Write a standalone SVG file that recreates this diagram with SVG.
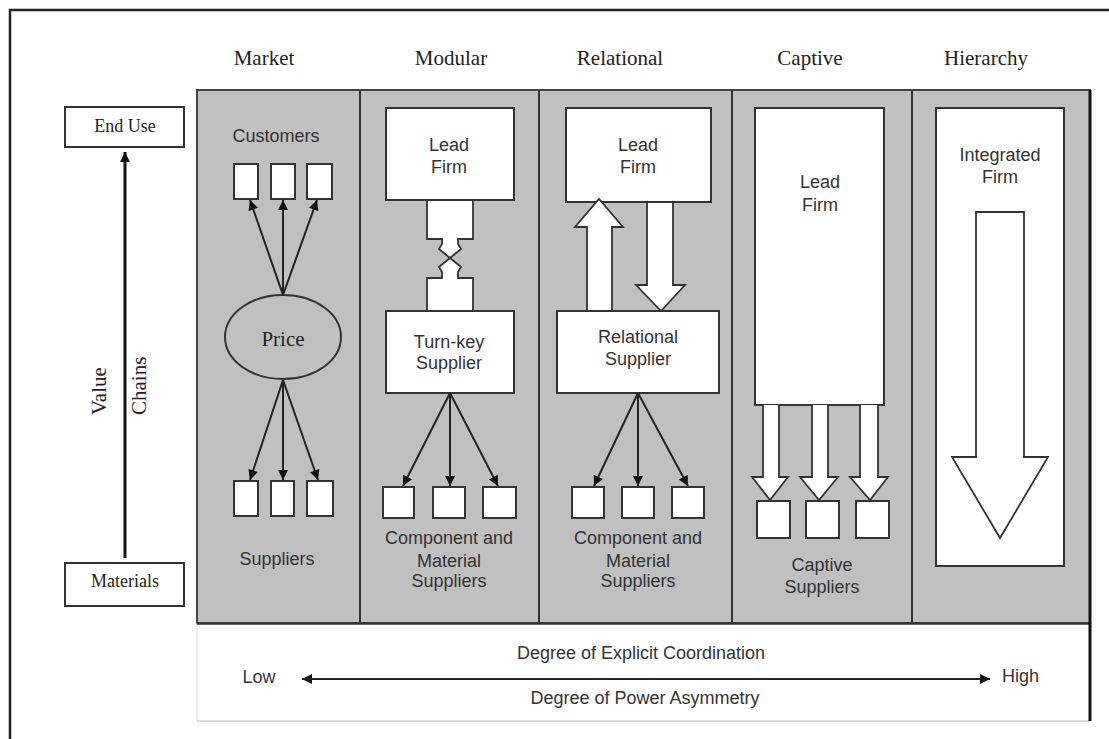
<svg xmlns="http://www.w3.org/2000/svg" width="1109" height="739" viewBox="0 0 1109 739">
<defs>
<style>
.serif{font-family:"Liberation Serif","Times New Roman",serif;fill:#222}
.sans{font-family:"Liberation Sans",Arial,sans-serif;fill:#333;font-size:18px;text-anchor:middle}
.start{text-anchor:start}
.box{fill:#fff;stroke:#333;stroke-width:2}
.hollow{fill:#fff;stroke:#333;stroke-width:1.8;stroke-linejoin:miter}
.sep{stroke:#333;stroke-width:2}
.conn{stroke:#222;stroke-width:2;fill:none;marker-end:url(#ah)}
</style>
<marker id="ah" viewBox="0 0 10 10" refX="10" refY="5" markerWidth="11" markerHeight="10" markerUnits="userSpaceOnUse" orient="auto">
<path d="M0,0 L10,5 L0,10 z" fill="#111"/>
</marker>
<marker id="ahb" viewBox="0 0 10 10" refX="10" refY="5" markerWidth="12" markerHeight="10" markerUnits="userSpaceOnUse" orient="auto">
<path d="M0,0 L10,5 L0,10 z" fill="#111"/>
</marker>
</defs>
<rect width="1109" height="739" fill="#fff"/>
<!-- outer frame -->
<path d="M10,739 L10,10 L1109,10" fill="none" stroke="#222" stroke-width="2.5"/>

<!-- headers -->
<g id="headers" class="serif" font-size="21" text-anchor="middle">
<text x="264" y="65">Market</text>
<text x="451" y="65">Modular</text>
<text x="620" y="65">Relational</text>
<text x="810" y="65">Captive</text>
<text x="986" y="65">Hierarchy</text>
</g>

<!-- main panel -->
<g id="panel">
<rect x="197" y="90" width="893" height="533" fill="#c0c0c0" stroke="#444" stroke-width="2"/>
<line class="sep" x1="360" y1="90" x2="360" y2="623"/>
<line class="sep" x1="539" y1="90" x2="539" y2="623"/>
<line class="sep" x1="732" y1="90" x2="732" y2="623"/>
<line class="sep" x1="912" y1="90" x2="912" y2="623"/>
</g>

<!-- bottom box -->
<g id="scale">
<rect x="197" y="623" width="893" height="98" fill="#fff"/>
<line x1="197" y1="721" x2="1090" y2="721" stroke="#ccc" stroke-width="1.5"/>
<line x1="197" y1="623" x2="197" y2="721" stroke="#ddd" stroke-width="1"/>
<line x1="197" y1="623.5" x2="1090" y2="623.5" stroke="#333" stroke-width="2.5"/>
<line x1="1090" y1="90" x2="1090" y2="721" stroke="#111" stroke-width="3"/>
<text class="sans" x="641" y="659">Degree of Explicit Coordination</text>
<text class="sans" x="645" y="704">Degree of Power Asymmetry</text>
<text class="sans" x="259" y="683">Low</text>
<text class="sans start" x="1002" y="682">High</text>
</g>

<!-- left axis -->
<g id="end-use">
<rect class="box" x="65" y="107" width="119" height="40"/>
<text class="serif" x="125" y="132" font-size="18" text-anchor="middle">End Use</text>
</g>
<g id="materials">
<rect class="box" x="65" y="563" width="119" height="43"/>
<text class="serif" x="125" y="587" font-size="18" text-anchor="middle">Materials</text>
</g>
<g id="axis-label" class="serif" font-size="21">
<text transform="translate(106,415) rotate(-90)">Value</text>
<text transform="translate(146,415) rotate(-90)">Chains</text>
</g>

<!-- Market -->
<g id="market">
<text class="sans" x="276" y="142">Customers</text>
<rect class="box" x="234" y="164" width="24" height="35"/>
<rect class="box" x="271" y="164" width="24" height="35"/>
<rect class="box" x="307" y="164" width="25" height="35"/>
<ellipse cx="283" cy="337" rx="58" ry="42" fill="#c0c0c0" stroke="#333" stroke-width="2"/>
<text class="serif" x="283" y="346" font-size="21" text-anchor="middle">Price</text>
<rect class="box" x="234" y="481" width="24" height="35"/>
<rect class="box" x="271" y="481" width="23" height="35"/>
<rect class="box" x="307" y="481" width="26" height="35"/>
<text class="sans" x="277" y="565">Suppliers</text>
</g>

<!-- Modular -->
<g id="modular">
<rect class="box" x="386" y="108" width="128" height="92"/>
<text class="sans" x="449" y="151">Lead</text>
<text class="sans" x="449" y="173">Firm</text>
<path class="hollow" d="M427,200 L473,200 L473,239 L458,239 L458,244 L461,249 L450,258 L439,249 L442,244 L442,239 L427,239 Z"/>
<path class="hollow" d="M427,311 L473,311 L473,278 L458,278 L458,272 L461,267 L450,258 L439,267 L442,272 L442,278 L427,278 Z"/>
<rect class="box" x="386" y="311" width="128" height="82"/>
<text class="sans" x="449" y="348">Turn-key</text>
<text class="sans" x="449" y="369">Supplier</text>
<rect class="box" x="383" y="487" width="31" height="31"/>
<rect class="box" x="433" y="487" width="32" height="31"/>
<rect class="box" x="483" y="487" width="33" height="31"/>
<text class="sans" x="449" y="544">Component and</text>
<text class="sans" x="449" y="567">Material</text>
<text class="sans" x="449" y="587">Suppliers</text>
</g>

<!-- Relational -->
<g id="relational">
<rect class="box" x="566" y="108" width="145" height="94"/>
<text class="sans" x="638" y="151">Lead</text>
<text class="sans" x="638" y="173">Firm</text>
<path class="hollow" d="M587,311 L587,227 L575,227 L599,199 L623,227 L612,227 L612,311 Z"/>
<path class="hollow" d="M647,202 L647,285 L636,285 L661,311 L685,285 L673,285 L673,202 Z"/>
<rect class="box" x="557" y="311" width="162" height="82"/>
<text class="sans" x="638" y="343">Relational</text>
<text class="sans" x="638" y="365">Supplier</text>
<rect class="box" x="572" y="487" width="32" height="31"/>
<rect class="box" x="622" y="487" width="32" height="31"/>
<rect class="box" x="672" y="487" width="32" height="31"/>
<text class="sans" x="638" y="544">Component and</text>
<text class="sans" x="638" y="567">Material</text>
<text class="sans" x="638" y="587">Suppliers</text>
</g>

<!-- Captive -->
<g id="captive">
<rect class="box" x="755" y="108" width="129" height="297"/>
<text class="sans" x="820" y="188">Lead</text>
<text class="sans" x="820" y="211">Firm</text>
<path class="hollow" d="M763,405 L763,477 L752,477 L770,500 L788,477 L779,477 L779,405"/>
<path class="hollow" d="M812,405 L812,477 L800,477 L819,500 L838,477 L828,477 L828,405"/>
<path class="hollow" d="M860,405 L860,477 L850,477 L870,500 L888,477 L878,477 L878,405"/>
<rect class="box" x="757" y="501" width="33" height="37"/>
<rect class="box" x="806" y="501" width="33" height="37"/>
<rect class="box" x="856" y="501" width="33" height="37"/>
<text class="sans" x="822" y="571">Captive</text>
<text class="sans" x="822" y="593">Suppliers</text>
</g>

<!-- Hierarchy -->
<g id="hierarchy">
<rect class="box" x="936" y="108" width="128" height="458"/>
<text class="sans" x="1000" y="161">Integrated</text>
<text class="sans" x="1000" y="183">Firm</text>
<path class="hollow" d="M976,212 L1024,212 L1024,457 L1048,457 L1000,538 L952,457 L976,457 Z"/>
</g>

<!-- connectors -->
<g id="connectors">
<line x1="125" y1="558" x2="125" y2="152" stroke="#111" stroke-width="3" marker-end="url(#ahb)"/>
<line class="conn" x1="283" y1="295" x2="250" y2="200"/>
<line class="conn" x1="283" y1="295" x2="283" y2="200"/>
<line class="conn" x1="283" y1="295" x2="317" y2="200"/>
<line class="conn" x1="283" y1="380" x2="250" y2="480"/>
<line class="conn" x1="283" y1="380" x2="283" y2="480"/>
<line class="conn" x1="283" y1="380" x2="318" y2="480"/>
<line class="conn" x1="450" y1="393" x2="403" y2="486"/>
<line class="conn" x1="450" y1="393" x2="450" y2="486"/>
<line class="conn" x1="450" y1="393" x2="498" y2="486"/>
<line class="conn" x1="638" y1="393" x2="594" y2="486"/>
<line class="conn" x1="638" y1="393" x2="638" y2="486"/>
<line class="conn" x1="638" y1="393" x2="688" y2="486"/>
<line x1="990" y1="679" x2="302" y2="679" stroke="#222" stroke-width="2" marker-end="url(#ah)"/>
<line x1="302" y1="679" x2="990" y2="679" stroke="#222" stroke-width="2" marker-end="url(#ah)"/>
</g>
</svg>
